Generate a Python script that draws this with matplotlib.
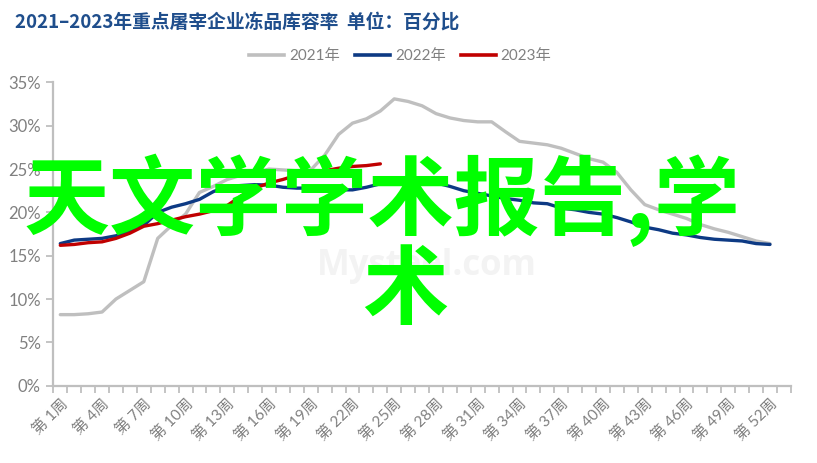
import matplotlib
matplotlib.use("Agg")
import matplotlib.pyplot as plt
from matplotlib.lines import Line2D

plt.rcParams['font.family'] = ['Lato', 'Noto Sans CJK SC', 'DejaVu Sans']

weeks = list(range(1, 54))
tick_weeks = list(range(1, 53, 3))
tick_labels = [f"第 {w}周" for w in tick_weeks]
yticks = [0, 5, 10, 15, 20, 25, 30, 35]

s2021 = [8.2, 8.2, 8.3, 8.5, 10.0, 11.0, 12.0, 17.0, 18.5, 19.8, 22.3, 23.0, 23.8,
         24.3, 24.6, 25.0, 24.9, 24.8, 24.9, 26.6, 29.0, 30.3, 30.8, 31.7, 33.1, 32.8,
         32.3, 31.4, 30.9, 30.6, 30.45, 30.45, 29.3, 28.2, 28.0, 27.8, 27.4, 26.8, 26.2,
         25.8, 24.6, 22.6, 20.9, 20.3, 19.8, 19.3, 18.6, 18.1, 17.7, 17.2, 16.7, 16.4]
s2022 = [16.4, 16.8, 16.9, 17.0, 17.3, 17.8, 18.5, 20.0, 20.6, 21.0, 21.5, 22.4, 23.0,
         23.1, 23.2, 23.15, 22.9, 22.8, 22.8, 22.7, 22.6, 22.6, 22.9, 23.3, 23.9, 24.0,
         23.8, 23.4, 23.0, 22.5, 22.2, 21.9, 21.6, 21.4, 21.1, 21.0, 20.5, 20.3, 20.0,
         19.8, 19.4, 18.9, 18.3, 18.0, 17.6, 17.4, 17.1, 16.9, 16.8, 16.7, 16.4, 16.3]
s2023 = [16.2, 16.3, 16.5, 16.6, 17.0, 17.6, 18.4, 18.7, 19.1, 19.5, 19.8, 20.2, 20.8,
         21.9, 22.8, 23.4, 23.8, 24.3, 24.6, 24.8, 25.1, 25.3, 25.4, 25.6]
series_names = ["2021年", "2022年", "2023年"]
colors = ["#BFBFBF", "#0D3A84", "#C00000"]

fig = plt.figure(figsize=(8.17, 4.63), dpi=100)
ax = fig.add_axes([0.0653, 0.167, 0.9027, 0.655])

data = [s2021, s2022, s2023]
for vals, c, name in zip(data, colors, series_names):
    ax.plot(weeks[:len(vals)], vals, color=c, lw=2.4, solid_capstyle='round',
            solid_joinstyle='round', label=name, zorder=3)

ax.set_xlim(0.5, 53.5)
ax.set_ylim(0, 35)
ax.set_yticks(yticks)
ax.set_yticklabels([f"{v}%" for v in yticks], color="#808080", fontsize=12)
ax.set_xticks(tick_weeks)
ax.set_xticklabels(tick_labels, rotation=45, ha='right', rotation_mode='anchor',
                   color="#808080", fontsize=11)
ax.set_xticks([w + 0.5 for w in range(0, 54)], minor=True)
ax.tick_params(axis='x', which='major', length=0, pad=8)
ax.tick_params(axis='x', which='minor', length=5, width=1.3, color="#BFBFBF")
ax.tick_params(axis='y', length=5, width=1.3, color="#BFBFBF", pad=4)
for sp in ['top', 'right']:
    ax.spines[sp].set_visible(False)
for sp in ['left', 'bottom']:
    ax.spines[sp].set_color("#BFBFBF")
    ax.spines[sp].set_linewidth(1.6)

# watermark
fig.text(0.522, 0.425, "Mysteel.com", color="#F3F3F3", fontsize=25, fontweight='bold',
         ha='center', va='center', zorder=0, family=['Open Sans'])

# title
fig.text(0.018, 0.952, "2021–2023年重点屠宰企业冻品库容率  单位：百分比", color="#1F4E8C",
         fontsize=13.5, fontweight='bold', ha='left', va='center',
         family=['Noto Sans CJK SC', 'DejaVu Sans'])

# legend
handles = [Line2D([], [], color=c, lw=2.6) for c in colors]
leg = fig.legend(handles, series_names, loc='center', bbox_to_anchor=(0.49, 0.878),
                 ncol=3, frameon=False, fontsize=11, handlelength=2.3,
                 columnspacing=1.0, handletextpad=0.3)
for t in leg.get_texts():
    t.set_color("#808080")

# overlay text
fig.text(0.468, 0.568, "天文学学术报告,学", color="#00FF00", fontsize=62, fontweight='bold',
         ha='center', va='center', family=['Noto Sans CJK SC'], zorder=10)
fig.text(0.496, 0.37, "术", color="#00FF00", fontsize=62, fontweight='bold',
         ha='center', va='center', family=['Noto Sans CJK SC'], zorder=10)

fig.savefig("out.png", dpi=100)
